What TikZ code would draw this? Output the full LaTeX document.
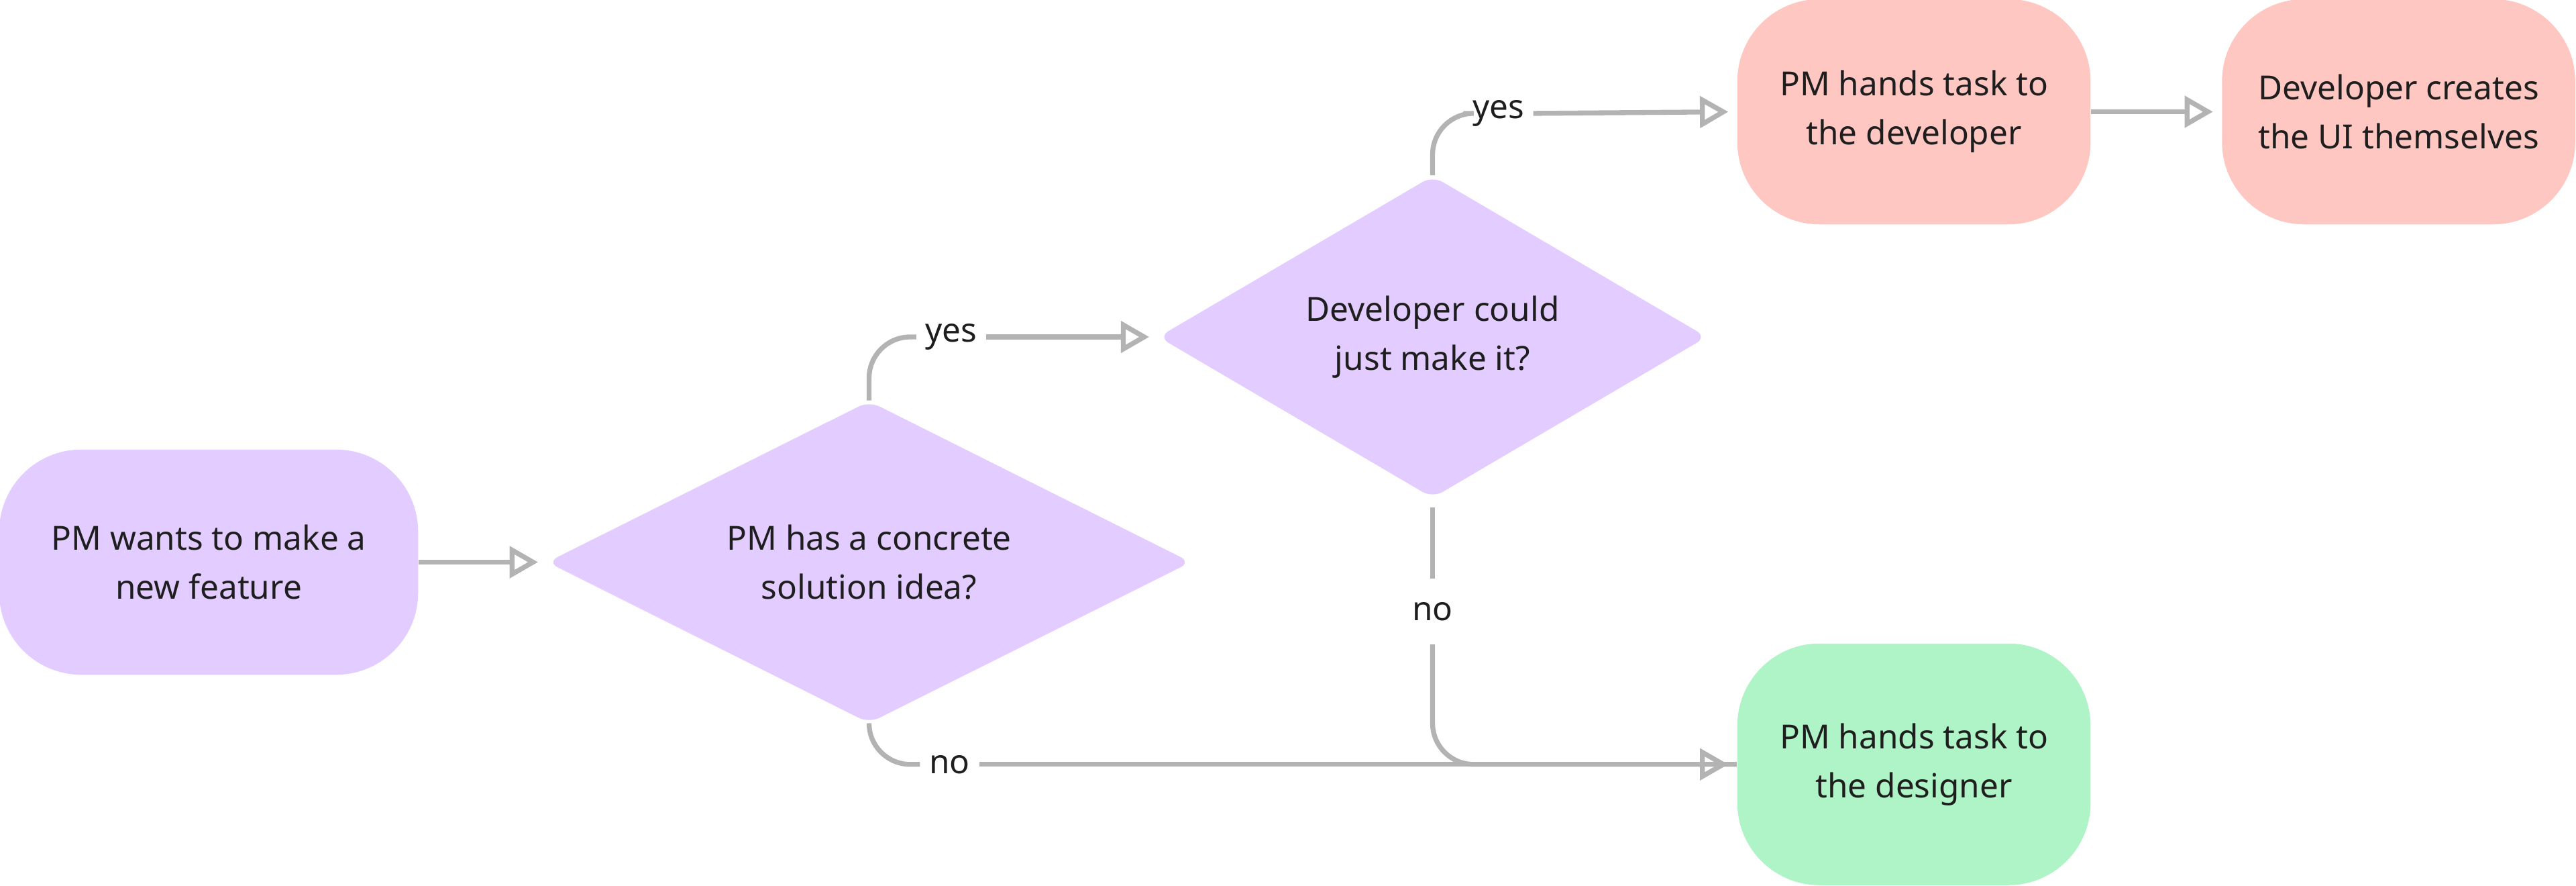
\documentclass[tikz,border=0pt]{standalone}
\usepackage{fontspec}
\setmainfont{Noto Sans}
\usetikzlibrary{positioning, arrows, shapes.geometric}
\definecolor{lilac}{HTML}{E3CCFF}
\definecolor{salmon}{HTML}{FFC7C2}
\definecolor{mint}{HTML}{AFF4C6}
\definecolor{wire}{HTML}{B3B3B3}
\definecolor{ink}{HTML}{1E1E1E}
\tikzstyle{arrow} = [line width=1.7pt, draw=wire, -open triangle 60, shorten >=3pt]

\begin{document}
\begin{tikzpicture}[font=\fontsize{11.5}{17}\selectfont, text=ink]
        \tikzstyle{task} = [rectangle, rounded corners=1cm, minimum width=4.3cm, minimum height=2.74cm, align=center]
        \tikzstyle{ask} = [diamond, fill=lilac, rounded corners=4pt, align=center, inner sep=0pt]
        \tikzstyle{tag} = [inner sep=3pt]
        \tikzstyle{line} = [line width=1.7pt, draw=wire, rounded corners=0.5cm]

        \useasboundingbox (0,0) rectangle (31.36,10.78);

        \node[task, fill=lilac, minimum width=5.1cm](start) at (2.54,3.94) {PM wants to make a\\new feature};
        \node[ask, minimum width=7.84cm, minimum height=3.92cm, aspect=2](idea) at (10.58,3.94) {PM has a concrete\\solution idea?};
        \node[ask, minimum width=6.68cm, minimum height=3.92cm, aspect=1.7](could) at (17.44,6.68) {Developer could\\just make it?};
        \node[task, fill=salmon](dev) at (23.3,9.42) {PM hands task to\\the \textbf{developer}};
        \node[task, fill=salmon](ui) at (29.2,9.42) {Developer creates\\the UI themselves};
        \node[task, fill=mint, minimum height=2.94cm](des) at (23.3,1.48) {PM hands task to\\the \textbf{designer}};

        \node[tag](yes1) at (11.58,6.68) {yes};
        \node[tag](no1) at (11.56,1.48) {no};
        \node[tag](yes2) at (18.24,9.4) {yes};
        \node[tag, inner sep=8pt](no2) at (17.44,3.34) {no};

        \draw[arrow] (start) -- (idea);
        \draw[line] (idea.north) |- (yes1.west);
        \draw[arrow] (yes1.east) -- (could.west);
        \draw[line] (idea.south) |- (no1.west);
        \draw[arrow] (no1.east) -- (des.west);
        \draw[line] (could.north) |- (yes2.west);
        \draw[arrow] (yes2.east) -- (dev.west);
        \draw[line] ([yshift=-3pt]could.south) -- (no2.north);
        \draw[line] (no2.south) |- (des.west);
        \draw[arrow] (dev) -- (ui);
\end{tikzpicture}
\end{document}
